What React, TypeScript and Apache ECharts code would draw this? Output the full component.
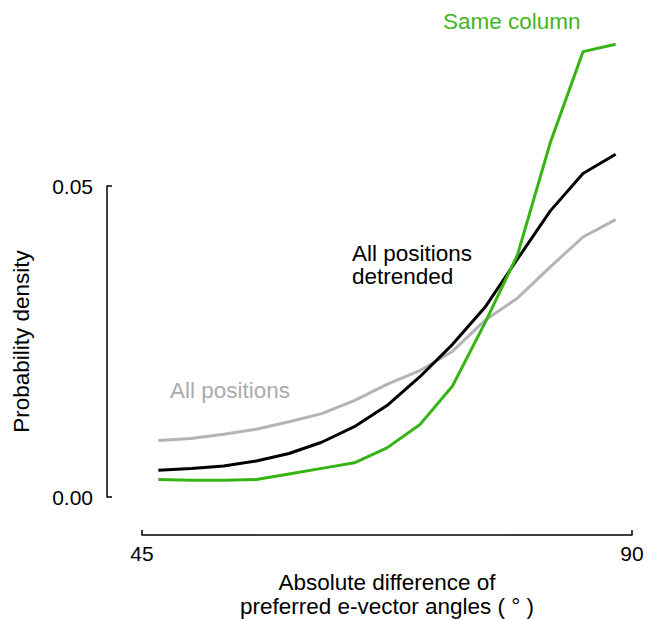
import React, { useEffect, useRef } from "react";
import * as echarts from "echarts";

const xCenters = [46.5, 49.5, 52.5, 55.5, 58.5, 61.5, 64.5, 67.5, 70.5, 73.5, 76.5, 79.5, 82.5, 85.5, 88.5];
const sameColumn = [0.0028, 0.0027, 0.0027, 0.0028, 0.0037, 0.0046, 0.0055, 0.0079, 0.0116, 0.0178, 0.028, 0.039, 0.057, 0.0716, 0.0728];
const allDetrended = [0.0043, 0.0046, 0.005, 0.0058, 0.007, 0.0088, 0.0113, 0.0147, 0.0193, 0.0245, 0.0305, 0.0383, 0.046, 0.052, 0.0551];
const allPositions = [0.0091, 0.0094, 0.0101, 0.0109, 0.0121, 0.0134, 0.0155, 0.0181, 0.0203, 0.0234, 0.0284, 0.032, 0.037, 0.0418, 0.0446];
const xTicks = [45, 90];
const yTicks = [0, 0.05];

const FONT = "'Liberation Sans', Arial, Helvetica, sans-serif";
const GREEN_LINE = "#36b414";
const GREEN_TEXT = "#3fb61e";
const GRAY_LINE = "#b4b4b4";
const GRAY_TEXT = "#ababab";

export default function App() {
  const ref = useRef<HTMLDivElement>(null);
  useEffect(() => {
    if (!ref.current) return;
    const chart = echarts.init(ref.current, null, { renderer: "svg" });
    const pts = (ys: number[]) => xCenters.map((x, i) => [x, ys[i]]);
    chart.setOption({
      animation: false,
      backgroundColor: "#fff",
      grid: [
        { left: 142, width: 490, top: 30.5, height: 466.5 },
        { left: 107, width: 1, top: 186, height: 311 },
        { left: 142, width: 490, top: 500, height: 35 },
      ],
      xAxis: [
        { gridIndex: 0, type: "value", min: 45, max: 90, show: false },
        { gridIndex: 1, type: "value", show: false },
        {
          gridIndex: 2,
          type: "value",
          min: xTicks[0],
          max: xTicks[1],
          interval: xTicks[1] - xTicks[0],
          position: "bottom",
          axisLine: { show: true, lineStyle: { color: "#000", width: 1.5 } },
          axisTick: { show: true, inside: true, length: 5, lineStyle: { color: "#000", width: 1.5 } },
          axisLabel: { show: true, margin: 8, fontSize: 21, color: "#000", fontFamily: FONT },
          splitLine: { show: false },
          name: "Absolute difference of\npreferred e-vector angles ( ° )",
          nameLocation: "middle",
          nameGap: 36,
          nameTextStyle: { fontSize: 22.5, color: "#000", fontFamily: FONT, lineHeight: 23.5 },
        },
      ],
      yAxis: [
        { gridIndex: 0, type: "value", min: 0, max: 0.075, show: false },
        {
          gridIndex: 1,
          type: "value",
          min: yTicks[0],
          max: yTicks[1],
          interval: yTicks[1] - yTicks[0],
          axisLine: { show: true, lineStyle: { color: "#000", width: 1.5 } },
          axisTick: { show: true, inside: true, length: 5, lineStyle: { color: "#000", width: 1.5 } },
          axisLabel: {
            show: true,
            margin: 14,
            fontSize: 21,
            color: "#000",
            fontFamily: FONT,
            formatter: (v: number) => v.toFixed(2),
          },
          splitLine: { show: false },
          name: "Probability density",
          nameLocation: "middle",
          nameRotate: 90,
          nameGap: 74,
          nameTextStyle: { fontSize: 22.5, color: "#000", fontFamily: FONT },
        },
        { gridIndex: 2, type: "value", show: false },
      ],
      series: [
        {
          name: "All positions",
          type: "line",
          xAxisIndex: 0,
          yAxisIndex: 0,
          data: pts(allPositions),
          showSymbol: false,
          lineStyle: { color: GRAY_LINE, width: 3 },
          z: 1,
        },
        {
          name: "All positions detrended",
          type: "line",
          xAxisIndex: 0,
          yAxisIndex: 0,
          data: pts(allDetrended),
          showSymbol: false,
          lineStyle: { color: "#000", width: 3 },
          z: 2,
        },
        {
          name: "Same column",
          type: "line",
          xAxisIndex: 0,
          yAxisIndex: 0,
          data: pts(sameColumn),
          showSymbol: false,
          lineStyle: { color: GREEN_LINE, width: 3 },
          z: 3,
        },
      ],
      graphic: [
        {
          type: "text",
          x: 443,
          y: 21,
          style: { text: "Same column", fill: GREEN_TEXT, font: `22.5px ${FONT}`, textVerticalAlign: "middle" },
        },
        {
          type: "text",
          x: 352,
          y: 265,
          style: {
            text: "All positions\ndetrended",
            fill: "#000",
            font: `22.5px ${FONT}`,
            lineHeight: 23,
            textVerticalAlign: "middle",
          },
        },
        {
          type: "text",
          x: 170,
          y: 390,
          style: { text: "All positions", fill: GRAY_TEXT, font: `22.5px ${FONT}`, textVerticalAlign: "middle" },
        },
      ],
    });
    return () => chart.dispose();
  }, []);
  return <div ref={ref} style={{ width: 658, height: 619, position: "absolute", left: 0, top: 0 }} />;
}
